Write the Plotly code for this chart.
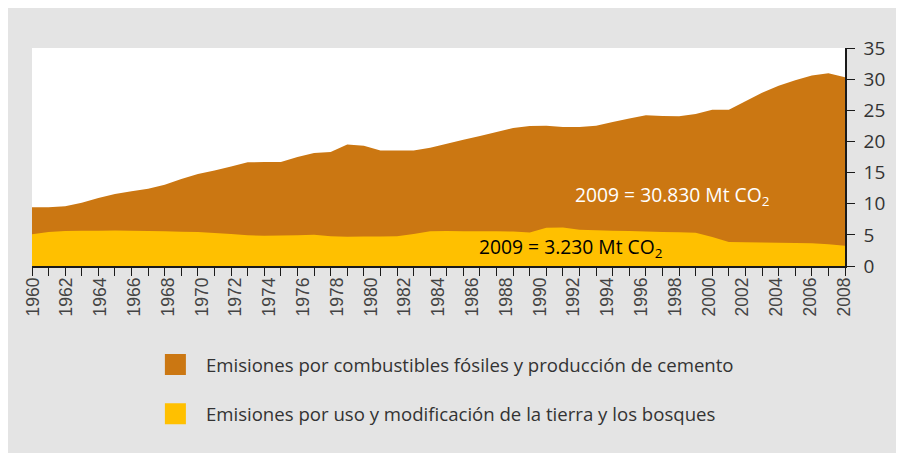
import plotly.graph_objects as go

years = list(range(1960, 2010))
fossil = [9.42, 9.42, 9.6, 10.14, 10.9, 11.56, 11.99, 12.39, 13.04, 13.95,
          14.76, 15.34, 15.98, 16.64, 16.7, 16.7, 17.5, 18.15, 18.3, 19.5,
          19.3, 18.55, 18.55, 18.55, 18.97, 19.61, 20.25, 20.88, 21.52, 22.16,
          22.47, 22.5, 22.3, 22.3, 22.53, 23.11, 23.69, 24.19, 24.1, 24.04,
          24.42, 25.1, 25.1, 26.44, 27.8, 28.95, 29.83, 30.58, 30.96, 30.3]
land = [5.11, 5.47, 5.62, 5.64, 5.66, 5.69, 5.67, 5.62, 5.57, 5.51,
        5.46, 5.31, 5.12, 4.93, 4.86, 4.91, 4.95, 5.0, 4.78, 4.7,
        4.72, 4.75, 4.78, 5.13, 5.58, 5.6, 5.58, 5.57, 5.56, 5.55,
        5.38, 6.15, 6.2, 5.8, 5.73, 5.66, 5.6, 5.53, 5.47, 5.4,
        5.34, 4.65, 3.86, 3.83, 3.79, 3.75, 3.71, 3.67, 3.48, 3.27]
tick_years = list(range(1960, 2009, 2))
y_ticks = [0, 5, 10, 15, 20, 25, 30, 35]
series_names = ["Emisiones por combustibles fósiles y producción de cemento",
                "Emisiones por uso y modificación de la tierra y los bosques"]
label_fossil = "2009 = 30.830 Mt CO<sub>2</sub>"
label_land = "2009 = 3.230 Mt CO<sub>2</sub>"

ORANGE = "#CB7712"
YELLOW = "#FFC000"
GRAY_BG = "#E4E4E4"
TXT = "#333333"

W, H = 889, 445
L, R, T, B = 24, 44, 40, 187
pw, ph = W - L - R, H - T - B

fig = go.Figure()
fig.add_trace(go.Scatter(x=years, y=fossil, fill="tozeroy", mode="none",
                         fillcolor=ORANGE, showlegend=False, hoverinfo="skip"))
fig.add_trace(go.Scatter(x=years, y=land, fill="tozeroy", mode="none",
                         fillcolor=YELLOW, showlegend=False, hoverinfo="skip"))
for name, col, grp in [(series_names[0], ORANGE, "a"), (series_names[1], YELLOW, "b")]:
    fig.add_trace(go.Scatter(x=[None], y=[None], mode="markers", name=name,
                             legendgroup=grp,
                             marker=dict(symbol="square", size=16, color=col,
                                         line=dict(color=col, width=5))))
# helper trace for the label axis
fig.add_trace(go.Scatter(x=tick_years, y=[None] * len(tick_years), xaxis="x2",
                         mode="markers", showlegend=False, hoverinfo="skip"))

fig.add_annotation(x=1998.55, y=11.3, xref="x", yref="y", text=label_fossil,
                   showarrow=False, font=dict(family="Open Sans", size=19.3, color="white"))
fig.add_annotation(x=1992.45, y=3.0, xref="x", yref="y", text=label_land,
                   showarrow=False, font=dict(family="Open Sans", size=19.3, color="black"))

fig.update_layout(
    width=W, height=H,
    margin=dict(l=L, r=R, t=T, b=B, pad=0),
    paper_bgcolor=GRAY_BG, plot_bgcolor="white",
    showlegend=True,
    legend=dict(x=(138 - L) / pw, xanchor="left", y=(H - B - 338) / ph, yanchor="top",
                bgcolor="rgba(0,0,0,0)", itemwidth=51, tracegroupgap=22,
                font=dict(family="Open Sans", size=18.6, color=TXT)),
    xaxis=dict(range=[1960, 2009], showgrid=False, zeroline=False,
               showline=True, linecolor="#1a1a1a", linewidth=1.5,
               ticks="outside", ticklen=8, tickwidth=1.2, tickcolor="#1a1a1a",
               dtick=1, tick0=1960, showticklabels=False, fixedrange=True),
    xaxis2=dict(overlaying="x", anchor="y", side="bottom",
                range=[1959.94, 2008.06], showgrid=False, zeroline=False,
                showline=False, ticks="", tickmode="array", tickvals=tick_years,
                ticktext=[str(y) for y in tick_years], tickangle=-90,
                ticklabelstandoff=7,
                tickfont=dict(family="Liberation Sans", size=17.5, color="#444444")),
    yaxis=dict(range=[0, 35], side="right", showgrid=False, zeroline=False,
               showline=True, linecolor="#1a1a1a", linewidth=1.5,
               ticks="outside", ticklen=8, tickwidth=1.2, tickcolor="#1a1a1a",
               tickmode="array", tickvals=y_ticks, ticklabelstandoff=5,
               tickfont=dict(family="Open Sans", size=19, color=TXT)),
)

fig.write_html("out.html")
